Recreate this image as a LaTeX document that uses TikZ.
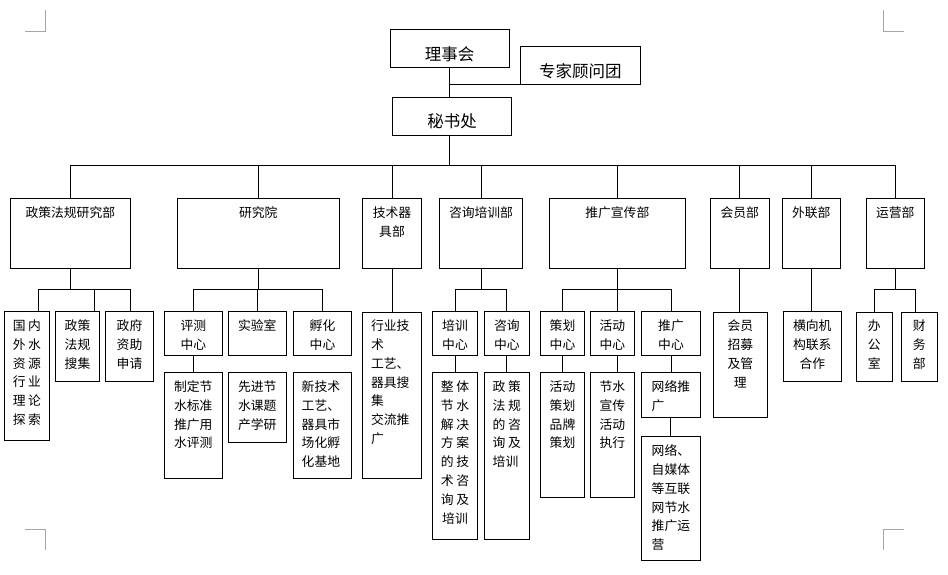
\documentclass[tikz,border=0pt]{standalone}
\usepackage{fontspec}
\newfontfamily\cjkfont{Noto Sans CJK SC}
\newcommand\gp{\hspace{2.5pt}}
\newcommand\ac[1]{\centering\vspace*{#1pt}}
\newcommand\al[2]{\raggedright\leftskip=#1pt\vspace*{#2pt}}
\newcommand\bigf{\fontsize{16.5pt}{20pt}\selectfont}
\newcommand\bx[7]{\node[bxs,anchor=north west] (#1) at (#2,#3) {\parbox[t][\dimexpr#5pt-#3pt\relax][t]{\dimexpr#4pt-#2pt\relax}{#6#7}};}
\tikzset{
  bxs/.style={draw, inner sep=0pt, outer sep=0pt, line width=0.9pt,
    font=\cjkfont\fontsize{12.8pt}{18.8pt}\selectfont},
  conn/.style={line width=0.9pt},
  cornermark/.style={draw=gray!70, line width=0.9pt}
}
\begin{document}
\begin{tikzpicture}[x=1pt,y=-1pt]
\useasboundingbox (0,0) rectangle (948,574);
\fill[white] (0,0) rectangle (948,574);
% corner marks
\draw[cornermark] (45.3,10) -- (45.3,31.3) -- (25,31.3);
\draw[cornermark] (883.3,10) -- (883.3,31.3) -- (904,31.3);
\draw[cornermark] (25,529.3) -- (45.3,529.3) -- (45.3,550.3);
\draw[cornermark] (904,529.3) -- (883.3,529.3) -- (883.3,550.3);
% top
\bx{board}{390}{29.3}{509.3}{67.3}{\bigf\ac{17.4}}{理事会}
\bx{exp}{520}{46.3}{640.7}{84.3}{\bigf\ac{17}}{专家顾问团}
\bx{sec}{392.3}{97.3}{511.7}{135.3}{\bigf\ac{16.7}}{秘书处}
% departments
\bx{pol}{10.3}{198.3}{130.3}{268.3}{\ac{8.4}}{政策法规研究部}
\bx{inst}{177.3}{198.3}{339.3}{268.3}{\ac{8.4}}{研究院}
\bx{tech}{362.3}{198.3}{421.7}{268.3}{\ac{8.4}}{技术器\\具部}
\bx{cons}{439.3}{198.3}{522.7}{268.3}{\ac{8.4}}{咨询培训部}
\bx{prom}{549.3}{198.3}{685.3}{268.3}{\ac{8.4}}{推广宣传部}
\bx{mem}{710.3}{198.3}{769.3}{268.3}{\ac{8.4}}{会员部}
\bx{ext}{782.3}{198.3}{840.3}{268.3}{\ac{8.4}}{外联部}
\bx{ops}{866.3}{198.3}{924.3}{268.3}{\ac{8.4}}{运营部}
% level 2
\bx{c11}{4}{311}{49.7}{440.3}{\ac{8.8}}{国\gp 内\\外\gp 水\\资\gp 源\\行\gp 业\\理\gp 论\\探\gp 索}
\bx{c12}{55.3}{311}{99.7}{381.3}{\ac{8.8}}{政策\\法规\\搜集}
\bx{c13}{105.3}{311}{153.7}{381.3}{\ac{8.8}}{政府\\资助\\申请}
\bx{c21}{164.3}{311}{222.3}{355}{\ac{8.8}}{评测\\中心}
\bx{c22}{228.3}{311}{286.3}{355}{\ac{8.8}}{实验室}
\bx{c23}{293.3}{311}{351.7}{355}{\ac{8.8}}{孵化\\中心}
\bx{g21}{164.3}{372.3}{222.3}{478.3}{\ac{8.4}}{制定节\\水标准\\推广用\\水评测}
\bx{g22}{228.3}{372.3}{286.3}{442.3}{\ac{8.4}}{先进节\\水课题\\产学研}
\bx{g23}{293.3}{372.3}{351.7}{478.3}{\al{8.4}{8.4}}{新技术\\工艺、\\器具市\\场化孵\\化基地}
\bx{c31}{362.3}{312.3}{421.7}{478.3}{\al{8.7}{7.7}}{行业技\\术\\工艺、\\器具搜\\集\\交流推\\广}
\bx{c41}{432.3}{311}{477.7}{355}{\ac{8.8}}{培训\\中心}
\bx{c42}{484.3}{311}{529.3}{355}{\ac{8.8}}{咨询\\中心}
\bx{g41}{432.3}{372.3}{477.7}{539.3}{\ac{8.4}}{整\gp 体\\节\gp 水\\解\gp 决\\方\gp 案\\的\gp 技\\术\gp 咨\\询\gp 及\\培训}
\bx{g42}{484.3}{372.3}{529.3}{539.3}{\al{8.4}{8.4}}{政\gp 策\\法\gp 规\\的\gp 咨\\询\gp 及\\培训}
\bx{c51}{540.3}{311}{584.7}{355}{\ac{8.8}}{策划\\中心}
\bx{c52}{590.3}{311}{634.3}{355}{\ac{8.8}}{活动\\中心}
\bx{c53}{641.7}{311}{700.3}{355}{\ac{8.8}}{推广\\中心}
\bx{g51}{540.3}{372.3}{584.7}{497}{\ac{8.4}}{活动\\策划\\品牌\\策划}
\bx{g52}{590.3}{372.3}{634.3}{497}{\ac{8.4}}{节水\\宣传\\活动\\执行}
\bx{g53}{641.3}{372.3}{700.3}{417.3}{\al{10.4}{8.4}}{网络推\\广}
\bx{h53}{641.3}{436.3}{700.3}{560.3}{\al{10.4}{8.4}}{网络、\\自媒体\\等互联\\网节水\\推广运\\营}
\bx{c61}{713.3}{312.3}{767.3}{417.3}{\ac{7.7}}{会员\\招募\\及管\\理}
\bx{c71}{783.3}{311}{841.3}{381.3}{\ac{8.8}}{横向机\\构联系\\合作}
\bx{c81}{856.3}{312.3}{892.3}{381.3}{\ac{7.7}}{办\\公\\室}
\bx{c82}{901.3}{312.3}{937.3}{381.3}{\ac{7.7}}{财\\务\\部}
% bus coordinates
\coordinate (bus) at (0,165);
\coordinate (sub) at (0,289);
% top connectors
\draw[conn] (board.south) -- (board.south |- sec.north);
\draw[conn] (board.south |- exp.south) -- (exp.south west);
\draw[conn] (sec.south -| board.south) -- (board.south |- bus);
\draw[conn] (pol.north |- bus) -- (ops.north |- bus);
\foreach \d in {pol,inst,tech,cons,prom,mem,ext,ops} \draw[conn] (\d.north) -- (\d.north |- bus);
% policy group
\coordinate (p1) at ([xshift=11.4pt]c11.north);
\coordinate (p2) at ([xshift=16.8pt]c12.north);
\coordinate (p3) at ([xshift=0.8pt]c13.north);
\draw[conn] (pol.south) -- (pol.south |- sub);
\draw[conn] (p1) -- (p1 |- sub) -- (p3 |- sub) -- (p3);
\draw[conn] (p2) -- (p2 |- sub);
% institute group
\draw[conn] (inst.south) -- (inst.south |- sub);
\draw[conn] (c21.north) -- (c21.north |- sub) -- (c23.north |- sub) -- (c23.north);
\draw[conn] (c22.north) -- (c22.north |- sub);
\draw[conn] (c21.south) -- (c21.south |- g21.north);
% tech
\draw[conn] (tech.south) -- (tech.south |- c31.north);
% consulting
\draw[conn] (cons.south) -- (cons.south |- sub);
\draw[conn] (c41.north) -- (c41.north |- sub) -- (c42.north |- sub) -- (c42.north);
\draw[conn] (c41.south) -- (c41.south |- g41.north);
\draw[conn] (c42.south) -- (c42.south |- g42.north);
% promotion
\draw[conn] (prom.south) -- (prom.south |- c52.north);
\draw[conn] (c51.north) -- (c51.north |- sub) -- (c53.north |- sub) -- (c53.north);
\draw[conn] (c51.south) -- (c51.south |- g51.north);
\draw[conn] (c52.south -| prom.south) -- (prom.south |- g52.north);
\draw[conn] (c53.south) -- (c53.south |- g53.north);
\draw[conn] (g53.south) -- (g53.south |- h53.north);
% member, external
\draw[conn] (mem.south) -- (mem.south |- c61.north);
\draw[conn] (ext.south) -- (ext.south |- c71.north);
% operations
\coordinate (q2) at ([xshift=-4pt]c82.north);
\draw[conn] (ops.south) -- (ops.south |- sub);
\draw[conn] (c81.north) -- (c81.north |- sub) -- (q2 |- sub) -- (q2);
\end{tikzpicture}
\end{document}
